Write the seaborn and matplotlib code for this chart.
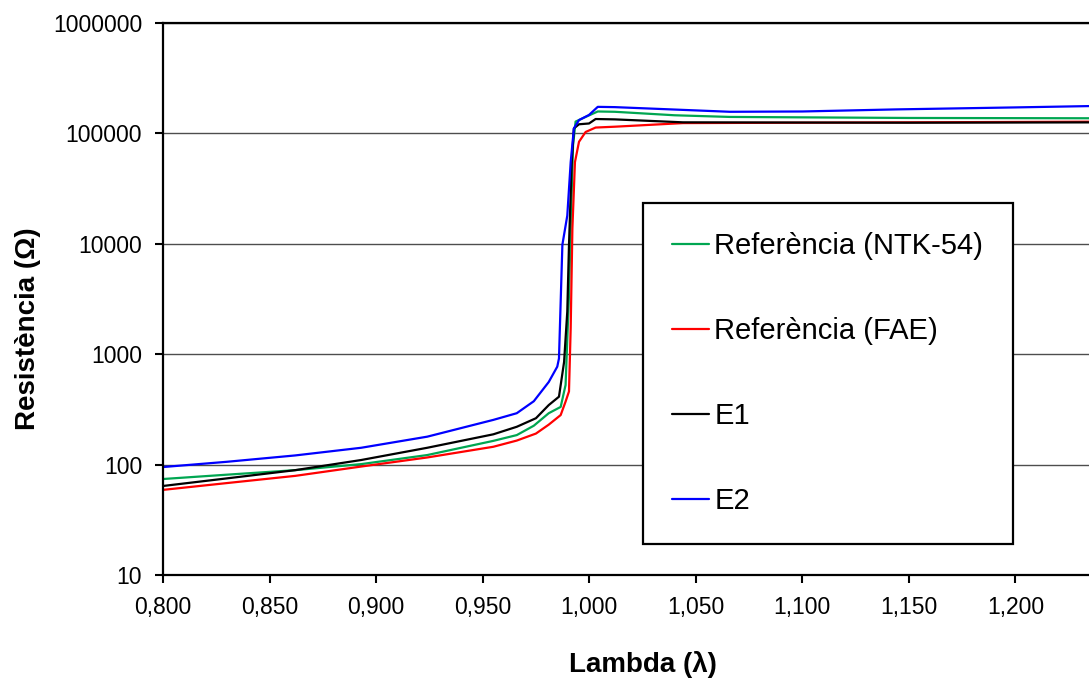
from matplotlib import pyplot as plt
from matplotlib.ticker import FuncFormatter, NullLocator, FixedLocator
import numpy as np
import pandas as pd
import seaborn as sns


# lambda values, one list per curve
lambda_ntk = [0.800, 0.830, 0.862, 0.893, 0.924, 0.955, 0.966, 0.974, 0.981, 0.9866, 0.9889,
              0.9905, 0.9913, 0.9924, 0.9936, 0.9983, 1.004, 1.012, 1.040, 1.066, 1.150, 1.250]
res_ntk = [74, 81, 89, 101, 122, 164, 185, 225, 292, 333, 526,
           3460, 13800, 78000, 128000, 141000, 158000, 157000, 146000, 141000, 138000, 137000]

lambda_fae = [0.800, 0.830, 0.862, 0.893, 0.924, 0.955, 0.966, 0.975, 0.981, 0.9866, 0.9889,
              0.9905, 0.9913, 0.9921, 0.9933, 0.9952, 0.9983, 1.003, 1.012, 1.044, 1.150, 1.250]
res_fae = [59, 68, 79, 96, 116, 145, 165, 191, 230, 281, 372,
           460, 1730, 13800, 55000, 84000, 103000, 113000, 115000, 124000, 126000, 128000]

lambda_e1 = [0.800, 0.830, 0.862, 0.893, 0.924, 0.955, 0.966, 0.975, 0.981, 0.9858, 0.9882,
             0.9897, 0.9905, 0.9918, 0.9928, 0.9952, 0.9999, 1.003, 1.012, 1.044, 1.150, 1.250]
res_e1 = [64, 75, 89, 110, 142, 188, 220, 263, 346, 412, 850,
          2430, 9800, 55000, 111000, 121000, 123000, 135000, 134000, 126000, 125000, 126000]

lambda_e2 = [0.800, 0.830, 0.862, 0.893, 0.924, 0.955, 0.966, 0.974, 0.981, 0.985, 0.9858,
             0.9874, 0.9897, 0.9913, 0.9928, 0.9952, 0.9999, 1.004, 1.012, 1.066, 1.100, 1.144, 1.200, 1.250]
res_e2 = [95, 106, 121, 142, 179, 254, 292, 375, 560, 771, 915,
          9800, 18000, 55000, 111000, 132000, 147000, 174000, 173000, 157000, 158000, 165000, 172000, 179000]

series_names = ['Referència (NTK-54)', 'Referència (FAE)', 'E1', 'E2']
series_colors = ['#00a651', '#ff0000', '#000000', '#0000ff']

x_ticks = [0.80, 0.85, 0.90, 0.95, 1.00, 1.05, 1.10, 1.15, 1.20]
y_ticks = [10, 100, 1000, 10000, 100000, 1000000]

sns.set_style('white')
plt.rcParams['font.family'] = ['Liberation Sans', 'DejaVu Sans']
plt.rcParams.update({'text.color': 'black', 'axes.labelcolor': 'black',
                     'xtick.color': 'black', 'ytick.color': 'black'})

frames = []
for name, xs, ys in zip(series_names,
                        [lambda_ntk, lambda_fae, lambda_e1, lambda_e2],
                        [res_ntk, res_fae, res_e1, res_e2]):
    frames.append(pd.DataFrame({'lambda': xs, 'res': ys, 'serie': name}))
df = pd.concat(frames, ignore_index=True)

fig = plt.figure(figsize=(10.89, 6.81), dpi=100)
ax = fig.add_axes([0.1497, 0.1557, 0.8806, 0.8105])

for name, color in zip(series_names, series_colors):
    sub = df[df['serie'] == name]
    sns.lineplot(data=sub, x='lambda', y='res', ax=ax, color=color, lw=1.6,
                 label=name, estimator=None, sort=False)

ax.set_yscale('log')
ax.set_xlim(0.8, 1.25)
ax.set_ylim(10, 1000000)
ax.xaxis.set_major_locator(FixedLocator(x_ticks))
ax.yaxis.set_major_locator(FixedLocator(y_ticks))
ax.yaxis.set_minor_locator(NullLocator())
ax.xaxis.set_minor_locator(NullLocator())
ax.xaxis.set_major_formatter(FuncFormatter(lambda v, _: f'{v:.3f}'.replace('.', ',')))
ax.yaxis.set_major_formatter(FuncFormatter(lambda v, _: f'{int(round(v))}'))

ax.grid(axis='y', color='#4d4d4d', lw=1.0)
ax.grid(axis='x', visible=False)
for side in ['left', 'bottom', 'top']:
    ax.spines[side].set_color('black')
    ax.spines[side].set_linewidth(1.6)
ax.spines['right'].set_visible(False)
ax.tick_params(axis='both', direction='out', length=6, width=1.5, color='black',
               labelsize=16.5, pad=9, left=True, bottom=True)

ax.set_xlabel('Lambda (λ)', fontsize=20, fontweight='bold', va='center')
ax.set_ylabel('Resistència (Ω)', fontsize=20, fontweight='bold', va='center')
ax.xaxis.set_label_coords(0.5, -0.163)
ax.yaxis.set_label_coords(-0.141, 0.446)

leg = ax.legend(loc='upper left', bbox_to_anchor=(643 / 1089, 1 - 203 / 681),
                bbox_transform=fig.transFigure, borderaxespad=0, fontsize=21,
                frameon=True, fancybox=False, framealpha=1, edgecolor='black',
                handlelength=1.25, handletextpad=0.2, borderpad=1.0, labelspacing=1.95)
leg.get_frame().set_linewidth(1.6)
for line in leg.get_lines():
    line.set_linewidth(1.6)

fig.savefig('out.png', dpi=100)
